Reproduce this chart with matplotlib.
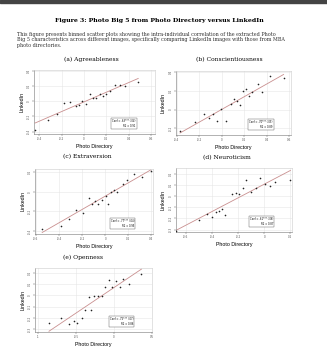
import numpy as np
import matplotlib
matplotlib.use("Agg")
import matplotlib.pyplot as plt
from matplotlib.patches import Rectangle

# binned scatter values (photo directory vs linkedin)
agree_x = [-0.438, -0.326, -0.242, -0.182, -0.124, -0.076, -0.046, -0.016, 0.014, 0.05,
           0.08, 0.11, 0.14, 0.17, 0.2, 0.23, 0.274, 0.32, 0.364, 0.484]
agree_y = [-0.378, -0.244, -0.162, -0.028, -0.012, -0.064, -0.05, 0.002, -0.032, 0.088,
           0.044, 0.044, 0.088, 0.066, 0.088, 0.132, 0.21, 0.21, 0.204, 0.252]

consc_x = [-0.37, -0.238, -0.154, -0.11, -0.074, -0.044, -0.006, 0.036, 0.082, 0.11,
           0.134, 0.162, 0.192, 0.216, 0.24, 0.272, 0.32, 0.356, 0.43, 0.548]
consc_y = [-0.228, -0.128, -0.046, -0.086, -0.042, -0.122, 0.008, -0.122, 0.064, 0.11,
           0.092, 0.05, 0.2, 0.218, 0.15, 0.192, 0.272, 0.186, 0.364, 0.342]

extra_x = [-0.546, -0.384, -0.314, -0.254, -0.196, -0.144, -0.118, -0.09, -0.062, -0.032,
           0.006, 0.02, 0.054, 0.078, 0.104, 0.15, 0.192, 0.25, 0.322, 0.394]
extra_y = [-0.38, -0.348, -0.274, -0.184, -0.212, -0.06, -0.122, -0.092, -0.122, -0.088,
           -0.04, -0.122, 0.002, 0.022, 0.002, 0.08, 0.124, 0.184, 0.148, 0.21]

neuro_x = [-0.672, -0.5, -0.436, -0.402, -0.372, -0.346, -0.326, -0.3, -0.248, -0.216,
           -0.192, -0.166, -0.138, -0.1, -0.062, -0.036, 0.002, 0.042, 0.084, 0.2]
neuro_y = [-0.312, -0.215, -0.161, -0.185, -0.139, -0.13, -0.118, -0.173, 0.018, 0.024,
           0.018, 0.07, 0.142, 0.039, 0.073, 0.164, 0.106, 0.088, 0.124, 0.148]

open_x = [-0.86, -0.705, -0.6, -0.535, -0.49, -0.43, -0.39, -0.335, -0.31, -0.26,
          -0.215, -0.165, -0.115, -0.07, -0.025, 0.02, 0.075, 0.12, 0.19, 0.36]
open_y = [-0.249, -0.204, -0.255, -0.225, -0.243, -0.198, -0.129, -0.016, -0.129, -0.001,
          -0.001, -0.001, 0.071, 0.14, 0.071, 0.131, 0.074, 0.149, 0.101, 0.191]

titles = ["(a) Agreeableness", "(b) Conscientiousness", "(c) Extraversion",
          "(d) Neuroticism", "(e) Openness"]
coef_txt = ["Coef = .63*** (.04)", "Coef = .70*** (.05)", "Coef = .77*** (.04)",
            "Coef = .61*** (.06)", "Coef = .75*** (.07)"]
r2_txt = ["R2 = 0.91", "R2 = 0.89", "R2 = 0.95", "R2 = 0.87", "R2 = 0.86"]

xticks = [[-0.4, -0.2, 0, 0.2, 0.4, 0.6], [-0.4, -0.2, 0, 0.2, 0.4, 0.6],
          [-0.6, -0.4, -0.2, 0, 0.2, 0.4], [-0.6, -0.4, -0.2, 0, 0.2],
          [-1, -0.5, 0, 0.5]]
yticks = [[-0.4, -0.2, 0, 0.2, 0.4], [-0.2, 0, 0.2, 0.4],
          [-0.4, -0.2, 0, 0.2], [-0.3, -0.2, -0.1, 0, 0.1, 0.2],
          [-0.3, -0.2, -0.1, 0, 0.1, 0.2]]
xlims = [(-0.448, 0.634), (-0.406, 0.614), (-0.608, 0.414), (-0.676, 0.212), (-1.045, 0.5)]
ylims = [(-0.43, 0.412), (-0.272, 0.414), (-0.43, 0.234), (-0.321, 0.255), (-0.324, 0.245)]

xs = [agree_x, consc_x, extra_x, neuro_x, open_x]
ys = [agree_y, consc_y, extra_y, neuro_y, open_y]

fig = plt.figure(figsize=(3.27, 3.6), dpi=100)
fig.patches.append(Rectangle((0, 0.992), 1, 0.008, transform=fig.transFigure,
                             color="#444444", zorder=0))

serif = "DejaVu Serif"
fig.text(0.487, 0.944, "Figure 3: Photo Big 5 from Photo Directory versus LinkedIn",
         ha="center", va="center", fontsize=4.5, fontweight="bold", family=serif)
caption = ("This figure presents binned scatter plots showing the intra-individual correlation of the extracted Photo\n"
           "Big 5 characteristics across different images, specifically comparing LinkedIn images with those from MBA\n"
           "photo directories.")
fig.text(0.052, 0.912, caption, ha="left", va="top", fontsize=3.5, family=serif,
         color="#333333", linespacing=1.15)

boxes = [[0.104, 0.628, 0.370, 0.178], [0.538, 0.625, 0.352, 0.178],
         [0.107, 0.350, 0.361, 0.181], [0.538, 0.356, 0.355, 0.178],
         [0.107, 0.078, 0.358, 0.178]]
title_pos = [(0.278, 0.834), (0.70, 0.834), (0.266, 0.564), (0.694, 0.561), (0.254, 0.286)]

for i in range(5):
    ax = fig.add_axes(boxes[i])
    x = np.array(xs[i])
    y = np.array(ys[i])
    b, a = np.polyfit(x, y, 1)
    xl = np.array([x.min(), x.max()])
    ax.plot(xl, a + b * xl, color="#c98f8f", lw=0.6, zorder=2)
    ax.scatter(x, y, s=1.4, color="#222222", zorder=3, linewidths=0)
    ax.set_xlim(xlims[i])
    ax.set_ylim(ylims[i])
    ax.set_xticks(xticks[i])
    ax.set_yticks(yticks[i])
    ax.set_xticklabels([f"{v:g}" for v in xticks[i]])
    ax.set_yticklabels([f"{v:g}" for v in yticks[i]], rotation=90, va="center")
    ax.tick_params(labelsize=2, length=1.2, width=0.3, pad=1, colors="#555555")
    ax.grid(True, color="#e6e6e6", lw=0.4)
    ax.set_axisbelow(True)
    for sp in ax.spines.values():
        sp.set_color("#cccccc")
        sp.set_linewidth(0.4)
    ax.spines["left"].set_color("#777777")
    ax.spines["bottom"].set_color("#777777")
    ax.set_xlabel("Photo Directory", fontsize=3.8, labelpad=2, family="Liberation Sans")
    ax.set_ylabel("LinkedIn", fontsize=3.8, labelpad=2, family="Liberation Sans")
    ax.text(0.84, 0.09, coef_txt[i] + "\n" + r2_txt[i], transform=ax.transAxes,
            ha="right", va="bottom", fontsize=1.8, linespacing=1.3,
            bbox=dict(boxstyle="square,pad=0.4", fc="white", ec="#555555", lw=0.3))
    fig.text(title_pos[i][0], title_pos[i][1], titles[i], ha="center", va="center",
             fontsize=4.3, family=serif)

fig.savefig("out.png", dpi=100, facecolor="white")
